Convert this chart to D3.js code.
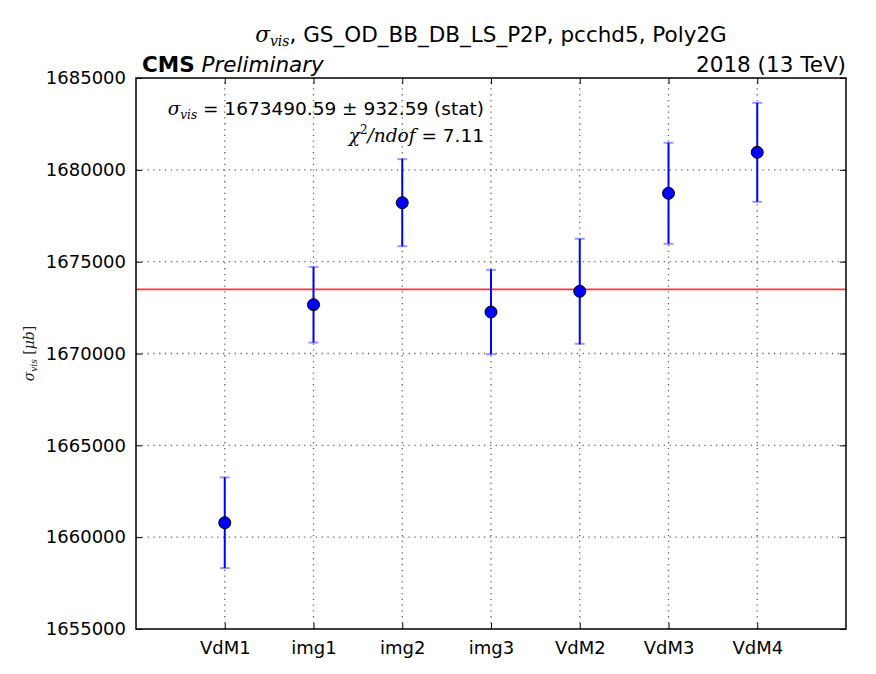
<!DOCTYPE html>
<html lang="en">
<head>
  <meta charset="UTF-8" />
  <title>sigma_vis per scan</title>
  <style>
    html, body { margin: 0; padding: 0; background: #fff; }
    svg { display: block; font-family: "DejaVu Sans", sans-serif; }
  </style>
</head>
<body>
  <script src="https://d3js.org/d3.v7.min.js"></script>
  <script>
    // data
    const scans = ["VdM1", "img1", "img2", "img3", "VdM2", "VdM3", "VdM4"];
    const sigmaVis = [1660786, 1672656, 1678210, 1672259, 1673386, 1678722, 1680954];
    const sigmaErr = [2470, 2060, 2370, 2295, 2860, 2750, 2695];
    const yTicks = [1655000, 1660000, 1665000, 1670000, 1675000, 1680000, 1685000];
    const fitValue = 1673490.59;
    const fitErr = 932.59;
    const chi2ndof = 7.11;

    const width = 876, height = 674;
    const margin = { top: 78, right: 30, bottom: 45, left: 136 };

    const svg = d3.select("body").append("svg")
      .attr("width", width).attr("height", height);

    const x = d3.scaleLinear().domain([-1, scans.length]).range([margin.left, width - margin.right]);
    const y = d3.scaleLinear().domain([1655000, 1685000]).range([height - margin.bottom, margin.top]);

    const x0 = margin.left, x1 = width - margin.right, y0 = height - margin.bottom, y1 = margin.top;

    // grid (dotted)
    const grid = svg.append("g").attr("stroke", "#666")
      .attr("stroke-width", 1.3).attr("stroke-dasharray", "1.3,4.5");
    grid.selectAll("line.h").data(yTicks.slice(1, -1)).join("line").attr("class", "h")
      .attr("x1", x0).attr("x2", x1).attr("y1", d => y(d)).attr("y2", d => y(d));
    grid.selectAll("line.v").data(scans).join("line").attr("class", "v")
      .attr("x1", (d, i) => x(i)).attr("x2", (d, i) => x(i)).attr("y1", y0).attr("y2", y1);

    // axes, matplotlib-classic style: ticks inside, on all four sides
    const yAxis = d3.axisLeft(y).tickValues(yTicks).tickFormat(d3.format("d")).tickSizeInner(-6).tickSizeOuter(0).tickPadding(10);
    svg.append("g").attr("transform", `translate(${x0},0)`).call(yAxis)
      .call(g => g.select(".domain").remove())
      .call(g => g.selectAll("text").attr("font-size", 18).attr("fill", "#000").attr("font-family", "DejaVu Sans"));
    svg.append("g").attr("transform", `translate(${x1},0)`)
      .call(d3.axisRight(y).tickValues(yTicks).tickSizeInner(-6).tickSizeOuter(0).tickFormat(""))
      .call(g => g.select(".domain").remove());

    const xAxis = d3.axisBottom(x).tickValues(d3.range(scans.length)).tickFormat(i => scans[i])
      .tickSizeInner(-6).tickSizeOuter(0).tickPadding(12);
    svg.append("g").attr("transform", `translate(0,${y0})`).call(xAxis)
      .call(g => g.select(".domain").remove())
      .call(g => g.selectAll("text").attr("font-size", 18).attr("fill", "#000").attr("font-family", "DejaVu Sans"));
    svg.append("g").attr("transform", `translate(0,${y1})`)
      .call(d3.axisTop(x).tickValues(d3.range(scans.length)).tickSizeInner(-6).tickSizeOuter(0).tickFormat(""))
      .call(g => g.select(".domain").remove());

    // fit line
    svg.append("line")
      .attr("x1", x0).attr("x2", x1).attr("y1", y(fitValue)).attr("y2", y(fitValue))
      .attr("stroke", "#ff0000").attr("stroke-opacity", 0.8).attr("stroke-width", 1.6);

    // error bars
    const pts = scans.map((s, i) => ({ i, v: sigmaVis[i], e: sigmaErr[i] }));
    svg.append("g").selectAll("line").data(pts).join("line")
      .attr("x1", d => x(d.i)).attr("x2", d => x(d.i))
      .attr("y1", d => y(d.v - d.e)).attr("y2", d => y(d.v + d.e))
      .attr("stroke", "#0000ff").attr("stroke-width", 2);
    const caps = svg.append("g").attr("stroke", "#0000ff").attr("stroke-opacity", 0.4).attr("stroke-width", 2);
    caps.selectAll("line.top").data(pts).join("line").attr("class", "top")
      .attr("x1", d => x(d.i) - 5).attr("x2", d => x(d.i) + 5)
      .attr("y1", d => y(d.v + d.e)).attr("y2", d => y(d.v + d.e));
    caps.selectAll("line.bot").data(pts).join("line").attr("class", "bot")
      .attr("x1", d => x(d.i) - 5).attr("x2", d => x(d.i) + 5)
      .attr("y1", d => y(d.v - d.e)).attr("y2", d => y(d.v - d.e));

    svg.append("g").selectAll("circle").data(pts).join("circle")
      .attr("cx", d => x(d.i)).attr("cy", d => y(d.v)).attr("r", 6)
      .attr("fill", "#0000ff").attr("stroke", "#000").attr("stroke-width", 1);

    // frame
    svg.append("rect").attr("x", x0).attr("y", y1).attr("width", x1 - x0).attr("height", y0 - y1)
      .attr("fill", "none").attr("stroke", "#000").attr("stroke-width", 1.5);

    // titles
    const title = svg.append("text").attr("x", (x0 + x1) / 2).attr("y", 42)
      .attr("text-anchor", "middle").attr("font-size", 21.5);
    title.append("tspan").attr("font-family", "DejaVu Serif").attr("font-style", "italic").text("σ");
    title.append("tspan").attr("font-family", "DejaVu Serif").attr("font-style", "italic").attr("font-size", 14).attr("dy", 4).text("vis");
    title.append("tspan").attr("dy", -4).text(", GS_OD_BB_DB_LS_P2P, pcchd5, Poly2G");

    const cms = svg.append("text").attr("x", x0 + 6).attr("y", 72).attr("font-size", 21.5);
    cms.append("tspan").attr("font-weight", "bold").text("CMS");
    cms.append("tspan").attr("font-style", "italic").text(" Preliminary");

    svg.append("text").attr("x", x1).attr("y", 72).attr("text-anchor", "end")
      .attr("font-size", 21.5).text("2018 (13 TeV)");

    // fit annotation
    const ann = svg.append("text").attr("x", 484).attr("y", 115).attr("text-anchor", "end").attr("font-size", 18.5);
    ann.append("tspan").attr("font-family", "DejaVu Serif").attr("font-style", "italic").text("σ");
    ann.append("tspan").attr("font-family", "DejaVu Serif").attr("font-style", "italic").attr("font-size", 12).attr("dy", 4).text("vis");
    ann.append("tspan").attr("dy", -4).text(` = ${fitValue.toFixed(2)} `);
    ann.append("tspan").attr("font-family", "DejaVu Serif").text("±");
    ann.append("tspan").text(` ${fitErr.toFixed(2)} (stat)`);

    const chi = svg.append("text").attr("x", 484).attr("y", 142).attr("text-anchor", "end").attr("font-size", 18.5);
    chi.append("tspan").attr("font-family", "DejaVu Serif").attr("font-style", "italic").text("χ");
    chi.append("tspan").attr("font-family", "DejaVu Serif").attr("font-size", 12).attr("dy", -8).text("2");
    chi.append("tspan").attr("font-family", "DejaVu Serif").attr("font-style", "italic").attr("dy", 8).text("/ndof");
    chi.append("tspan").text(` = ${chi2ndof.toFixed(2)}`);

    // y label
    const yl = svg.append("text").attr("transform", `translate(34,${(y0 + y1) / 2}) rotate(-90)`)
      .attr("text-anchor", "middle").attr("font-size", 14).attr("fill", "#222").attr("font-family", "DejaVu Serif");
    yl.append("tspan").attr("font-style", "italic").text("σ");
    yl.append("tspan").attr("font-style", "italic").attr("font-size", 9).attr("dy", 3).text("vis");
    yl.append("tspan").attr("dy", -3).text(" [");
    yl.append("tspan").attr("font-style", "italic").text("μb");
    yl.append("tspan").text("]");
  </script>
</body>
</html>
